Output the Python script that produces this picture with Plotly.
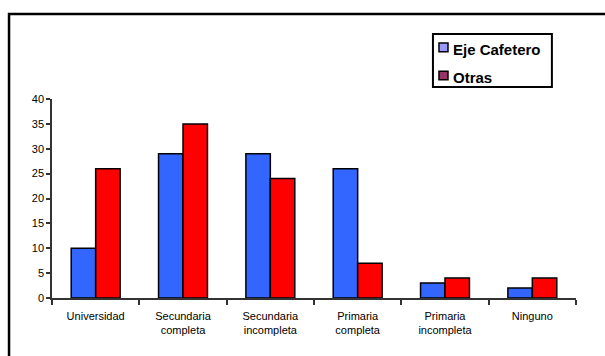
import plotly.graph_objects as go

categories = [
    "Universidad",
    "Secundaria<br>completa",
    "Secundaria<br>incompleta",
    "Primaria<br>completa",
    "Primaria<br>incompleta",
    "Ninguno",
]
eje_cafetero = [10, 29, 29, 26, 3, 2]
otras = [26, 35, 24, 7, 4, 4]
y_ticks = [0, 5, 10, 15, 20, 25, 30, 35, 40]

series_names = ["Eje Cafetero", "Otras"]
bar_colors = ["#3366FF", "#FF0000"]
key_colors = ["#9999FF", "#993366"]

bar_line = dict(color="black", width=1.5)

fig = go.Figure()
for name, vals, col in zip(series_names, [eje_cafetero, otras], bar_colors):
    fig.add_trace(go.Bar(x=categories, y=vals, name=name,
                         marker=dict(color=col, line=bar_line)))

fig.update_layout(
    width=605, height=356,
    margin=dict(l=52, r=29, t=99, b=58),
    paper_bgcolor="white", plot_bgcolor="white",
    barmode="group", bargap=0.44, bargroupgap=0,
    font=dict(family="Arial, Liberation Sans, sans-serif", size=11, color="black"),
    showlegend=False,
)
fig.update_xaxes(
    showline=True, linecolor="#333333", linewidth=1.5,
    ticks="outside", tickson="boundaries", ticklen=5, tickcolor="#333333", tickwidth=1.5,
    showgrid=False, ticklabelstandoff=7,
)
fig.update_yaxes(
    range=[0, 40], tickvals=y_ticks,
    showline=True, linecolor="#333333", linewidth=1.5,
    ticks="outside", ticklen=4, tickcolor="#333333", tickwidth=1.5,
    showgrid=False, zeroline=False,
)

# outer chart frame, running off the right and bottom edges
fig.add_shape(type="rect", xref="paper", yref="paper",
              x0=-0.082, x1=1.25, y0=-0.5, y1=1.427,
              line=dict(color="black", width=2.5), fillcolor="rgba(0,0,0,0)", layer="below")

# legend box with small square keys
fig.add_shape(type="rect", xref="paper", yref="paper",
              x0=0.727, x1=0.954, y0=1.060, y1=1.327,
              line=dict(color="black", width=2), fillcolor="white")
for i, (name, col) in enumerate(zip(series_names, key_colors)):
    y_top = 1.281 - i * 0.141
    fig.add_shape(type="rect", xref="paper", yref="paper",
                  x0=0.7385, x1=0.7557, y0=y_top - 0.043, y1=y_top,
                  line=dict(color="black", width=1.5), fillcolor=col)
    fig.add_annotation(xref="paper", yref="paper", x=0.762, y=y_top - 0.032,
                       xanchor="left", yanchor="middle", showarrow=False,
                       text=f"<b>{name}</b>",
                       font=dict(size=15, color="black",
                                 family="Arial, Liberation Sans, sans-serif"))

fig.write_html("out.html")
